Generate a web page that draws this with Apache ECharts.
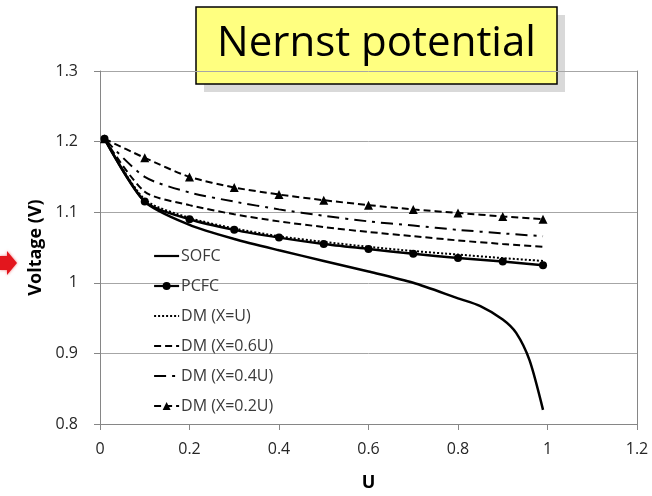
<!DOCTYPE html>
<html>
<head>
    <meta charset="UTF-8">
    <title>Nernst potential</title>
    <script src="https://cdn.jsdelivr.net/npm/echarts@6/dist/echarts.min.js"></script>
    <style>
        body { margin: 0; padding: 0; background: #fff; }
        #chart { width: 652px; height: 496px; }
    </style>
</head>
<body>
    <div id="chart"></div>
    <script>
        // U values where the markers sit
        const uVals = [0.01, 0.1, 0.2, 0.3, 0.4, 0.5, 0.6, 0.7, 0.8, 0.9, 0.99];
        const pcfc  = [1.204, 1.115, 1.090, 1.075, 1.064, 1.055, 1.048, 1.041, 1.035, 1.030, 1.025];
        const dmU   = [1.204, 1.118, 1.092, 1.077, 1.066, 1.058, 1.051, 1.045, 1.040, 1.035, 1.031];
        const dm06  = [1.204, 1.129, 1.110, 1.097, 1.087, 1.079, 1.072, 1.066, 1.060, 1.055, 1.051];
        const dm04  = [1.204, 1.150, 1.128, 1.115, 1.104, 1.095, 1.087, 1.081, 1.075, 1.070, 1.066];
        const dm02  = [1.204, 1.177, 1.150, 1.135, 1.125, 1.117, 1.110, 1.104, 1.099, 1.094, 1.090];
        // SOFC curve has a few more points near the end
        const sofcU = [0.01, 0.1, 0.2, 0.3, 0.4, 0.5, 0.6, 0.7, 0.8, 0.85, 0.9, 0.93, 0.96, 0.99];
        const sofc  = [1.204, 1.115, 1.082, 1.062, 1.046, 1.031, 1.016, 1.000, 0.978, 0.967, 0.948, 0.929, 0.89, 0.82];

        const seriesNames = ['SOFC', 'PCFC', 'DM (X=U)', 'DM (X=0.6U)', 'DM (X=0.4U)', 'DM (X=0.2U)'];
        const noMarker = ['SOFC', 'DM (X=U)', 'DM (X=0.6U)', 'DM (X=0.4U)'];
        const xTicks = { min: 0, max: 1.2, step: 0.2 };
        const yTicks = { min: 0.8, max: 1.3, step: 0.1 };

        const pairs = (xs, ys) => xs.map((x, i) => [x, ys[i]]);
        const axisGray = '#868686';
        const font = 'Open Sans';

        const chart = echarts.init(document.getElementById('chart'));

        const lineSeries = (name, data, type, width, symbol) => ({
            name: name,
            type: 'line',
            data: data,
            smooth: 0.25,
            symbol: symbol || 'none',
            symbolSize: symbol === 'triangle' ? 9 : 8,
            showSymbol: !!symbol,
            itemStyle: { color: '#000' },
            lineStyle: { color: '#000', width: width, type: type },
            emphasis: { disabled: true }
        });

        // legend items: hide the default marker for series without markers
        const legendData = seriesNames.map(n => noMarker.includes(n)
            ? { name: n, itemStyle: { color: 'rgba(0,0,0,0)', borderColor: 'rgba(0,0,0,0)', borderWidth: 0 } }
            : { name: n });

        const option = {
            animation: false,
            textStyle: { fontFamily: font },
            grid: { left: 100, right: 15, top: 71, bottom: 72, outerBoundsMode: 'none' },
            legend: {
                orient: 'vertical',
                left: 148,
                top: 243,
                itemWidth: 25,
                itemHeight: 10,
                itemGap: 14,
                data: legendData,
                lineStyle: { width: 2.2 },
                textStyle: { fontSize: 16, color: '#3a3a3a', fontFamily: font, padding: [0, 0, 0, -3] }
            },
            xAxis: {
                type: 'value',
                min: xTicks.min,
                max: xTicks.max,
                interval: xTicks.step,
                name: 'U',
                nameLocation: 'middle',
                nameGap: 50,
                nameTextStyle: { fontSize: 18, fontWeight: 'bold', color: '#000', fontFamily: font },
                axisLine: { show: true, onZero: false, lineStyle: { color: axisGray } },
                axisTick: { show: true, length: 6, lineStyle: { color: axisGray } },
                axisLabel: { fontSize: 16, color: '#262626', margin: 17 },
                splitLine: { show: false }
            },
            yAxis: [{
                type: 'value',
                min: yTicks.min,
                max: yTicks.max,
                interval: yTicks.step,
                name: 'Voltage (V)',
                nameLocation: 'middle',
                nameGap: 55,
                nameTextStyle: { fontSize: 18, fontWeight: 'bold', color: '#000', fontFamily: font },
                axisLine: { show: true, lineStyle: { color: axisGray } },
                axisTick: { show: true, length: 6, lineStyle: { color: axisGray } },
                axisLabel: { fontSize: 16, color: '#262626', margin: 22 },
                splitLine: { show: true, lineStyle: { color: '#a6a6a6' } }
            }, {
                // right frame line
                type: 'value',
                position: 'right',
                min: yTicks.min,
                max: yTicks.max,
                interval: yTicks.step,
                axisLine: { show: true, lineStyle: { color: axisGray } },
                axisTick: { show: false },
                axisLabel: { show: false },
                splitLine: { show: false }
            }],
            series: [
                lineSeries(seriesNames[0], pairs(sofcU, sofc), 'solid', 2.5),
                lineSeries(seriesNames[1], pairs(uVals, pcfc), 'solid', 2.5, 'circle'),
                lineSeries(seriesNames[2], pairs(uVals, dmU), [2, 2], 2),
                lineSeries(seriesNames[3], pairs(uVals, dm06), [7, 4], 2),
                lineSeries(seriesNames[4], pairs(uVals, dm04), [12, 6, 3, 6], 2),
                lineSeries(seriesNames[5], pairs(uVals, dm02), [7, 4], 2, 'triangle')
            ],
            graphic: [
                {
                    // red arrow cut off at the left edge
                    type: 'polygon',
                    z: 100,
                    shape: { points: [[0, 256], [7, 256], [7, 251], [17, 263], [7, 275], [7, 270], [0, 270]] },
                    style: { fill: '#e3161d', shadowBlur: 3, shadowColor: 'rgba(227,22,29,0.6)' }
                },
                {
                    type: 'group',
                    z: 100,
                    children: [
                        { type: 'rect', shape: { x: 204, y: 15, width: 361, height: 77 }, style: { fill: '#d9d9d9' } },
                        { type: 'rect', shape: { x: 196, y: 7, width: 361, height: 77 }, style: { fill: '#ffff80', stroke: '#000', lineWidth: 1.5 } },
                        {
                            type: 'text', x: 376.5, y: 44,
                            style: { text: 'Nernst potential', font: '42px "Open Sans"', fill: '#000', align: 'center', verticalAlign: 'middle' }
                        }
                    ]
                }
            ]
        };
        chart.setOption(option);
    </script>
</body>
</html>
